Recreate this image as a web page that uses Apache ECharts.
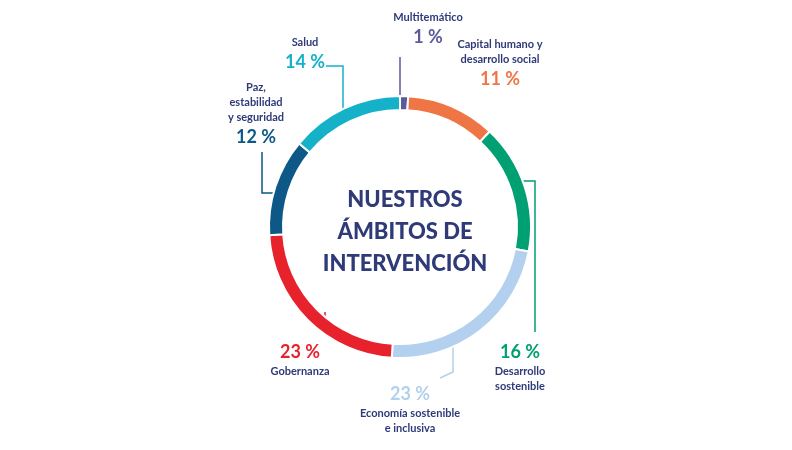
<!DOCTYPE html>
<html>
<head>
<meta charset="utf-8">
<script src="https://cdn.jsdelivr.net/npm/echarts@6/dist/echarts.min.js"></script>
<style>html,body{margin:0;background:#fff}#c{width:792px;height:450px}</style>
</head>
<body>
<div id="c"></div>
<script>
let names = ['Multitemático', 'Capital humano y\ndesarrollo social', 'Desarrollo\nsostenible', 'Economía sostenible\ne inclusiva', 'Gobernanza', 'Paz,\nestabilidad\ny seguridad', 'Salud'];
let values = [1, 11, 16, 23, 23, 12, 14];
let colors = ['#5a5a9c', '#f07545', '#00a072', '#b3d1ee', '#e8222c', '#0e5888', '#14b1c9'];
let nameFirst = [true, true, false, false, false, true, true];

// label positions and leader lines (layout only)
let labelPos = [
    {x: 428, y: 10, line: [[400, 97], [400, 57], [400, 57]]},
    {x: 500, y: 37, line: null},
    {x: 520, y: 340, line: [[522, 181], [535, 181], [535, 332]]},
    {x: 410, y: 382, line: [[453, 338], [453, 372], [440, 378]]},
    {x: 300, y: 340, line: [[325, 312], [325, 335], [325, 335]]},
    {x: 256, y: 80, line: [[285, 193], [262, 193], [262, 152]]},
    {x: 305, y: 35, line: [[343, 110], [343, 66], [326, 66]]}
];

let data = names.map(function(n, i){
    return {name: n, value: values[i], itemStyle: {color: colors[i]}};
});

let myChart = echarts.init(document.getElementById('c'));
let option = {
    animation: false,
    title: {
        text: 'NUESTROS\nÁMBITOS DE\nINTERVENCIÓN',
        left: 400, top: 227, textAlign: 'center', textVerticalAlign: 'middle',
        textStyle: {fontFamily: 'Lato', fontWeight: 900, fontSize: 22, lineHeight: 32, color: '#2f3a78'}
    },
    series: [{
        type: 'pie',
        center: [400, 227],
        radius: [117, 131],
        startAngle: 90,
        clockwise: true,
        itemStyle: {borderColor: '#fff', borderWidth: 2},
        data: data,
        label: {
            show: true,
            position: 'outside',
            formatter: function(p){
                let v = '{v' + p.dataIndex + '|' + p.value + ' %}';
                let n = p.name.split('\n').map(function(s){ return '{n|' + s + '}'; }).join('\n');
                return nameFirst[p.dataIndex] ? n + '\n' + v : v + '\n' + n;
            },
            align: 'center',
            rich: Object.assign({
                n: {fontFamily: 'Lato', fontWeight: 'bold', fontSize: 11, lineHeight: 15, color: '#2f3a78', align: 'center'}
            }, ...colors.map(function(c, i){
                let o = {};
                o['v' + i] = {fontFamily: 'Lato', fontWeight: 'bold', fontSize: 18, lineHeight: 24, color: c, align: 'center'};
                return o;
            }))
        },
        labelLine: {show: true, lineStyle: {width: 1.5}},
        labelLayout: function(p){
            let lp = labelPos[p.dataIndex];
            let r = {x: lp.x, y: lp.y, align: 'center', verticalAlign: 'top'};
            r.labelLinePoints = lp.line || [[0, 0], [0, 0], [0, 0]];
            return r;
        }
    }]
};
myChart.setOption(option);
</script>
</body>
</html>
